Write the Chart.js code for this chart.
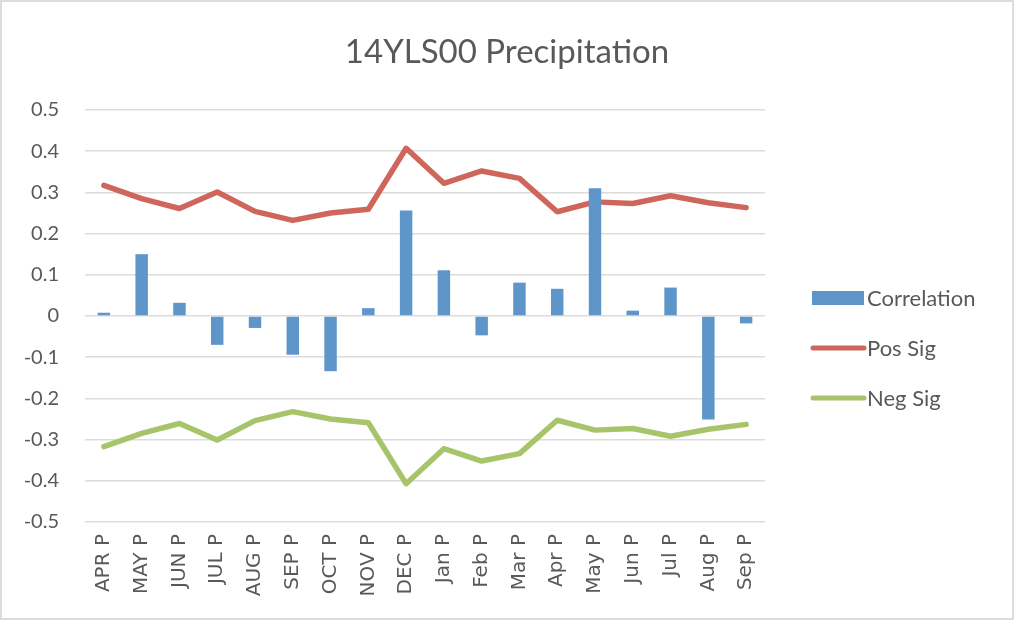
<!DOCTYPE html>
<html>
<head>
<meta charset="utf-8">
<script src="https://cdn.jsdelivr.net/npm/chart.js@4/dist/chart.umd.min.js"></script>
<style>
  body { margin: 0; background: #fff; }
  #wrap { width: 1010px; height: 616px; border: 2px solid #dcdcdc; }
</style>
</head>
<body>
<div id="wrap"><canvas id="myChart" width="1010" height="616"></canvas></div>
<script>
// months on the x axis
var months = ['APR P', 'MAY P', 'JUN P', 'JUL P', 'AUG P', 'SEP P', 'OCT P', 'NOV P', 'DEC P',
    'Jan P', 'Feb P', 'Mar P', 'Apr P', 'May P', 'Jun P', 'Jul P', 'Aug P', 'Sep P'];

// series
var correlation = [0.008, 0.150, 0.032, -0.070, -0.029, -0.094, -0.134, 0.019, 0.256,
    0.111, -0.047, 0.081, 0.066, 0.310, 0.013, 0.069, -0.251, -0.018];
var posSig = [0.317, 0.285, 0.261, 0.301, 0.254, 0.232, 0.250, 0.259, 0.407,
    0.322, 0.352, 0.334, 0.253, 0.277, 0.273, 0.292, 0.275, 0.263];
var negSig = [-0.317, -0.285, -0.261, -0.301, -0.254, -0.232, -0.250, -0.259, -0.407,
    -0.322, -0.352, -0.334, -0.253, -0.277, -0.273, -0.292, -0.275, -0.263];

var yTicks = [-0.5, -0.4, -0.3, -0.2, -0.1, 0, 0.1, 0.2, 0.3, 0.4, 0.5];

var chartTitle = '14YLS00 Precipitation';
var textGrey = '#595959';

// title centred on the whole canvas + legend on the right, drawn like Excel's
var excelBits = {
    id: 'excelBits',
    afterDraw: function (chart) {
        var ctx = chart.ctx;
        var area = chart.chartArea;
        ctx.save();
        // title
        ctx.font = '33px Lato';
        ctx.fillStyle = textGrey;
        ctx.textAlign = 'center';
        ctx.textBaseline = 'middle';
        ctx.fillText(chartTitle, chart.width / 2, 50);

        // legend
        var x0 = area.right + 46;
        var mid = (area.top + area.bottom) / 2 + 32;
        ctx.font = '22px Lato';
        ctx.textAlign = 'left';
        chart.data.datasets.forEach(function (ds, i) {
            var y = mid + (i - 1) * 50;
            if (ds.type === 'bar') {
                ctx.fillStyle = ds.backgroundColor;
                ctx.fillRect(x0 + 1, y - 7, 52, 14);
            } else {
                ctx.strokeStyle = ds.borderColor;
                ctx.lineWidth = 5;
                ctx.lineCap = 'round';
                ctx.beginPath();
                ctx.moveTo(x0 + 2, y);
                ctx.lineTo(x0 + 53, y);
                ctx.stroke();
            }
            ctx.fillStyle = textGrey;
            ctx.fillText(ds.label, x0 + 56, y + 1);
        });
        ctx.restore();
    }
};

const config = {
    type: 'bar',
    data: {
        labels: months,
        datasets: [
            {
                type: 'bar',
                label: 'Correlation',
                data: correlation,
                backgroundColor: '#5F96CA',
                barPercentage: 0.33,
                categoryPercentage: 1,
                order: 0
            },
            {
                type: 'line',
                label: 'Pos Sig',
                data: posSig,
                borderColor: '#CF665C',
                backgroundColor: '#CF665C',
                borderWidth: 5.5,
                pointRadius: 0,
                borderCapStyle: 'round',
                borderJoinStyle: 'round',
                tension: 0,
                order: 1
            },
            {
                type: 'line',
                label: 'Neg Sig',
                data: negSig,
                borderColor: '#A8C46A',
                backgroundColor: '#A8C46A',
                borderWidth: 5.5,
                pointRadius: 0,
                borderCapStyle: 'round',
                borderJoinStyle: 'round',
                tension: 0,
                order: 1
            }
        ]
    },
    options: {
        responsive: false,
        animation: false,
        layout: {
            padding: { left: 14, right: 247, top: 108, bottom: 18 }
        },
        scales: {
            x: {
                grid: { display: false, drawTicks: false },
                border: { display: false },
                ticks: {
                    color: textGrey,
                    font: { family: 'DejaVu Sans', size: 20 },
                    minRotation: 90,
                    maxRotation: 90,
                    padding: 12,
                    autoSkip: false
                },
                afterFit: function (axis) {
                    axis.height = 78;
                    axis.paddingLeft = 0;
                    axis.paddingRight = 0;
                }
            },
            y: {
                min: -0.5,
                max: 0.5,
                afterBuildTicks: function (axis) {
                    axis.ticks = yTicks.map(function (v) { return { value: v }; });
                },
                grid: { color: '#dcdcdc', lineWidth: 1.5, drawTicks: false },
                border: { display: false },
                ticks: {
                    color: textGrey,
                    font: { family: 'Lato', size: 20 },
                    padding: 26,
                    callback: function (v) { return String(parseFloat(v.toFixed(1))); }
                },
                afterFit: function (axis) {
                    axis.width = 69;
                    axis.paddingTop = 0;
                    axis.paddingBottom = 0;
                }
            }
        },
        plugins: {
            legend: { display: false },
            tooltip: { enabled: false },
            title: { display: false }
        }
    },
    plugins: [excelBits]
};

window.myChart = new Chart(document.getElementById('myChart'), config);
</script>
</body>
</html>
